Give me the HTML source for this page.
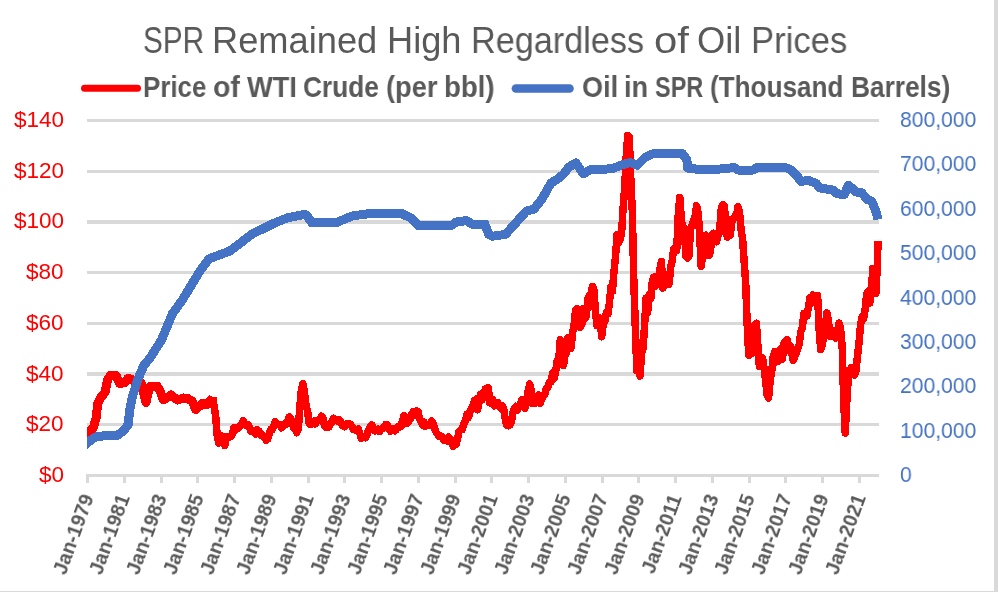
<!DOCTYPE html>
<html><head><meta charset="utf-8"><style>
html,body{margin:0;padding:0;background:#fff;}
body{width:999px;height:592px;position:relative;overflow:hidden;font-family:"Liberation Sans",sans-serif;}
.title{will-change:transform;position:absolute;top:20px;font-size:36px;color:#595959;white-space:nowrap;transform-origin:0 0;}
.leg{will-change:transform;position:absolute;top:70px;font-size:29.5px;font-weight:bold;color:#595959;white-space:nowrap;transform-origin:0 0;}
.ll{will-change:transform;position:absolute;right:935px;font-size:22.5px;color:#FF0000;white-space:nowrap;line-height:24px;}
.rl{will-change:transform;position:absolute;left:900px;font-size:22px;transform:scaleX(0.96);transform-origin:0 0;color:#4472C4;white-space:nowrap;line-height:24px;}
.xl{position:absolute;top:495px;width:0;height:0;}
.xl span{will-change:transform;position:absolute;right:0;top:-10px;line-height:20px;font-size:19.5px;font-weight:bold;color:#595959;white-space:nowrap;transform-origin:100% 50%;transform:rotate(-70deg);}
.bR{position:absolute;left:994px;top:0;width:4px;height:591px;background:#d9d9d9;}
.bB{position:absolute;left:0;top:591px;width:998px;height:1px;background:#d9d9d9;}
svg{position:absolute;left:0;top:0;}
</style></head><body>
<svg width="999" height="592" viewBox="0 0 999 592">
<g fill="#d9d9d9" shape-rendering="crispEdges"><rect x="87" y="119" width="792" height="3"/><rect x="87" y="170" width="792" height="3"/><rect x="87" y="220" width="792" height="4"/><rect x="87" y="271" width="792" height="3"/><rect x="87" y="322" width="792" height="3"/><rect x="87" y="372" width="792" height="4"/><rect x="87" y="423" width="792" height="3"/><rect x="87" y="474" width="792" height="3"/></g>
<g stroke="#d9d9d9" stroke-width="3" shape-rendering="crispEdges"><line x1="87.5" y1="474" x2="87.5" y2="483"/><line x1="124.5" y1="474" x2="124.5" y2="483"/><line x1="161.5" y1="474" x2="161.5" y2="483"/><line x1="197.5" y1="474" x2="197.5" y2="483"/><line x1="234.5" y1="474" x2="234.5" y2="483"/><line x1="271.5" y1="474" x2="271.5" y2="483"/><line x1="308.5" y1="474" x2="308.5" y2="483"/><line x1="344.5" y1="474" x2="344.5" y2="483"/><line x1="381.5" y1="474" x2="381.5" y2="483"/><line x1="418.5" y1="474" x2="418.5" y2="483"/><line x1="455.5" y1="474" x2="455.5" y2="483"/><line x1="491.5" y1="474" x2="491.5" y2="483"/><line x1="528.5" y1="474" x2="528.5" y2="483"/><line x1="565.5" y1="474" x2="565.5" y2="483"/><line x1="602.5" y1="474" x2="602.5" y2="483"/><line x1="638.5" y1="474" x2="638.5" y2="483"/><line x1="675.5" y1="474" x2="675.5" y2="483"/><line x1="712.5" y1="474" x2="712.5" y2="483"/><line x1="749.5" y1="474" x2="749.5" y2="483"/><line x1="785.5" y1="474" x2="785.5" y2="483"/><line x1="822.5" y1="474" x2="822.5" y2="483"/><line x1="859.5" y1="474" x2="859.5" y2="483"/></g>
<line x1="84.5" y1="88.3" x2="137.5" y2="88.3" stroke="#FF0000" stroke-width="7" stroke-linecap="round"/>
<line x1="515.9" y1="88.5" x2="569.5" y2="88.5" stroke="#4472C4" stroke-width="8.6" stroke-linecap="round"/>
<defs><clipPath id="pc"><rect x="87" y="100" width="797" height="400"/></clipPath></defs>
<polyline clip-path="url(#pc)" shape-rendering="crispEdges" fill="none" stroke="#FF0000" stroke-width="9" stroke-linejoin="round" points="82.0,437.5 87.0,433.5 93.1,428.4 96.2,417.7 97.7,404.0 101.5,396.5 105.3,391.9 107.5,379.7 110.6,375.2 115.9,375.2 119.7,383.5 124.3,382.8 128.1,378.2 131.9,379.7 136.4,382.8 141.0,383.0 146.0,402.5 149.5,387.0 151.5,386.0 157.0,386.0 160.0,391.0 163.5,400.0 171.0,395.0 177.5,400.0 183.5,398.0 187.5,398.5 192.0,401.0 195.8,409.5 202.5,403.5 207.0,404.5 212.8,397.5"/>
<polyline clip-path="url(#pc)" shape-rendering="crispEdges" fill="none" stroke="#FF0000" stroke-width="7.5" stroke-linejoin="round" points="212.8,397.5 215.7,416.9 217.2,435.8 218.7,443.0 220.3,442.4 221.8,436.0 223.3,440.9 224.9,445.6 226.4,436.7 227.9,437.3 229.5,437.2 231.0,436.4 232.5,434.1 234.0,427.7 235.6,430.0 237.1,428.6 238.6,427.6 240.2,425.7 241.7,424.1 243.2,420.9 244.8,423.5 246.3,425.5 247.8,424.6 249.4,427.2 250.9,431.2 252.4,431.6 254.0,432.4 255.5,433.9 257.0,429.7 258.6,430.8 260.1,433.1 261.6,435.7 263.2,435.6 264.7,438.1 266.2,440.1 267.7,439.1 269.3,433.5 270.8,429.3 272.3,429.5 273.9,425.6 275.4,421.6 276.9,424.0 278.5,424.2 280.0,424.8 281.5,427.9 283.1,425.3 284.6,424.0 286.1,424.6 287.7,421.5 289.2,417.0 290.7,418.9 292.3,423.3 293.8,428.3 295.3,428.9 296.8,432.7 298.4,428.2 299.9,405.7 301.4,390.0 303.0,383.6 304.5,393.0 306.0,405.8 307.6,411.0 309.1,423.1 310.6,424.5 312.2,422.2 313.7,421.2 315.2,423.8 316.8,420.7 318.3,420.0 319.8,419.5 321.4,416.1 322.9,418.0 324.4,425.6 326.0,427.4 327.5,426.8 329.0,427.0 330.5,423.7 332.1,421.8 333.6,418.2 335.1,419.8 336.7,420.9 338.2,419.5 339.7,420.0 341.3,423.4 342.8,425.8 344.3,426.7 345.9,424.1 347.4,423.5 348.9,423.7 350.5,424.4 352.0,426.6 353.5,429.6 355.1,429.3 356.6,430.6 358.1,429.0 359.7,432.9 361.2,438.2 362.7,436.9 364.2,437.5 365.8,437.8 367.3,433.5 368.8,429.6 370.4,426.7 371.9,425.1 373.4,428.4 375.0,430.8 376.5,430.1 378.0,429.2 379.6,431.5 381.1,429.3 382.6,427.9 384.2,428.0 385.7,424.5 387.2,424.9 388.8,428.2 390.3,431.1 391.8,429.3 393.3,428.8 394.9,430.8 396.4,429.4 397.9,426.7 399.5,427.2 401.0,426.6 402.5,420.9 404.1,415.4 405.6,421.3 407.1,423.2 408.7,421.0 410.2,419.5 411.7,414.2 413.3,411.9 414.8,414.9 416.3,411.0 417.9,411.3 419.4,418.8 420.9,421.8 422.5,425.0 424.0,422.2 425.5,426.2 427.0,425.1 428.6,424.4 430.1,424.8 431.6,420.9 433.2,423.8 434.7,428.5 436.2,432.6 437.8,434.3 439.3,436.7 440.8,436.1 442.4,437.2 443.9,440.2 445.4,439.1 447.0,440.8 448.5,436.9 450.0,438.3 451.6,442.0 453.1,446.2 454.6,443.3 456.2,444.5 457.7,437.8 459.2,431.1 460.7,430.1 462.3,429.6 463.8,424.0 465.3,421.0 466.9,414.6 468.4,417.5 469.9,411.6 471.5,408.8 473.0,405.9 474.5,400.5 476.1,399.3 477.6,409.8 479.1,402.0 480.7,394.3 482.2,399.7 483.7,395.7 485.3,389.1 486.8,391.0 488.3,387.7 489.8,402.9 491.4,400.0 492.9,399.9 494.4,405.9 496.0,405.3 497.5,402.4 499.0,405.0 500.6,408.0 502.1,405.6 503.6,408.6 505.2,418.8 506.7,425.2 508.2,425.8 509.8,425.0 511.3,422.5 512.8,412.8 514.4,408.6 515.9,406.4 517.4,410.3 519.0,406.6 520.5,403.0 522.0,399.8 523.5,401.9 525.1,408.2 526.6,400.3 528.1,391.4 529.7,384.1 531.2,390.0 532.7,403.6 534.3,403.7 535.8,397.3 537.3,397.0 538.9,394.9 540.4,403.2 541.9,398.1 543.5,396.1 545.0,393.5 546.5,388.0 548.1,387.0 549.6,381.8 551.1,381.8 552.7,372.9 554.2,378.6 555.7,371.6 557.2,361.1 558.8,358.5 560.3,339.9 561.8,352.1 563.4,365.6 564.9,356.2 566.4,352.9 568.0,337.6 569.5,340.7 571.0,348.6 572.6,332.1 574.1,325.4 575.6,310.2 577.2,308.7 578.7,317.1 580.2,327.1 581.8,324.4 583.3,308.9 584.8,318.7 586.3,316.0 587.9,298.9 589.4,295.4 590.9,295.1 592.5,286.3 594.0,289.8 595.5,313.2 597.1,325.7 598.6,325.2 600.1,317.9 601.7,336.8 603.2,324.7 604.7,321.7 606.3,312.8 607.8,314.1 609.3,303.9 610.9,287.1 612.4,291.5 613.9,272.3 615.5,257.4 617.0,234.7 618.5,242.5 620.0,239.3 621.6,233.1 623.1,207.6 624.6,189.5 626.2,157.0 627.7,135.5 629.2,136.8 630.8,179.2 632.3,211.0 633.8,280.7 635.4,329.7 636.9,370.7 638.4,369.2 640.0,375.9 641.5,353.4 643.0,349.1 644.6,325.3 646.1,298.4 647.6,312.3 649.2,294.8 650.7,299.0 652.2,283.0 653.7,277.2 655.3,286.2 656.8,276.4 658.3,281.3 659.9,269.1 661.4,261.3 662.9,288.0 664.5,284.0 666.0,281.5 667.5,280.8 669.1,284.2 670.6,267.4 672.1,261.4 673.7,248.9 675.2,248.9 676.7,250.4 678.3,214.2 679.8,197.3 681.3,219.1 682.8,230.9 684.4,228.3 685.9,256.1 687.4,258.1 689.0,256.1 690.5,228.6 692.0,225.1 693.6,220.7 695.1,215.9 696.6,205.8 698.2,213.0 699.7,235.0 701.2,266.3 702.8,252.1 704.3,236.3 705.8,235.3 707.4,248.1 708.9,255.6 710.4,252.2 712.0,234.7 713.5,233.3 715.0,239.3 716.5,241.7 718.1,235.3 719.6,232.2 721.1,209.6 722.7,204.8 724.2,205.5 725.7,220.1 727.3,237.0 728.8,227.4 730.3,235.1 731.9,219.3 733.4,219.4 734.9,216.2 736.5,215.9 738.0,206.7 739.5,212.3 741.1,230.2 742.6,238.6 744.1,261.0 745.7,282.8 747.2,324.7 748.7,355.3 750.2,346.7 751.8,353.7 753.3,336.9 754.8,324.7 756.4,323.3 757.9,345.9 759.4,366.3 761.0,359.7 762.5,357.8 764.0,367.4 765.6,380.7 767.1,394.7 768.6,398.1 770.2,379.8 771.7,371.7 773.2,356.6 774.8,351.4 776.3,361.8 777.8,361.6 779.3,360.4 780.9,348.8 782.4,359.2 783.9,343.2 785.5,341.9 787.0,339.4 788.5,349.9 790.1,345.5 791.6,352.1 793.1,360.4 794.7,356.8 796.2,353.2 797.7,348.7 799.3,344.2 800.8,331.4 802.3,328.2 803.9,313.5 805.4,317.2 806.9,315.9 808.5,307.0 810.0,297.6 811.5,302.9 813.0,295.0 814.6,302.4 816.1,296.9 817.6,295.6 819.2,330.6 820.7,349.4 822.2,344.7 823.8,335.7 825.3,327.5 826.8,313.1 828.4,320.8 829.9,336.4 831.4,329.6 833.0,336.0 834.5,330.6 836.0,338.2 837.6,330.4 839.1,323.2 840.6,329.1 842.2,346.8 843.7,400.9 845.2,433.0 846.7,402.6 848.3,377.9 849.8,371.8 851.3,367.6 852.9,374.5 854.4,375.1 855.9,371.2 857.5,355.8 859.0,343.1 860.5,325.3 862.1,316.9 863.6,318.5 865.1,309.7 866.7,294.0 868.2,291.2 869.7,303.3 871.3,293.6 872.8,268.4 874.3,274.3 875.8,293.2 877.4,264.0 878.0,241.0"/>
<polyline clip-path="url(#pc)" shape-rendering="crispEdges" fill="none" stroke="#4472C4" stroke-width="9" stroke-linejoin="round" points="82.0,447.5 87.0,443.0 93.1,438.5 97.7,436.2 117.4,435.4 123.5,430.9 128.1,424.8 129.6,411.1 132.6,395.9 138.0,379.2 143.7,365.6 150.0,358.0 161.5,340.0 172.5,313.5 181.7,301.0 190.8,286.0 200.0,271.0 209.0,258.8 230.0,251.0 251.6,234.4 276.0,222.3 288.0,217.7 303.0,214.7 306.5,215.0 311.7,222.6 336.4,222.6 352.0,216.0 370.0,213.5 401.5,213.5 412.0,218.7 418.4,225.8 451.0,225.8 456.0,222.0 466.6,220.6 473.0,224.7 484.8,224.0 488.7,234.4 492.6,236.2 505.6,234.4 526.4,211.0 534.0,209.0 542.0,199.0 550.8,183.3 558.0,178.7 563.4,174.2 568.8,167.0 576.0,163.0 583.2,173.9 590.5,169.7 612.0,168.8 621.0,165.2 630.0,162.5 637.3,165.2 644.5,158.0 651.7,154.0 682.3,153.5 686.8,159.8 687.7,168.0 702.0,169.8 720.0,169.0 734.2,167.6 738.0,170.0 753.3,170.0 757.0,167.6 785.6,167.6 791.3,170.0 797.0,175.7 800.8,181.4 808.4,180.5 816.0,183.3 819.8,188.0 833.0,190.0 837.0,193.8 844.5,194.4 848.3,185.2 852.0,188.0 856.0,191.9 861.7,192.8 867.4,199.5 872.0,201.4 876.0,211.9 878.0,219.5"/>
</svg>
<div class="title" style="left:143.05px;transform:scaleX(0.8257)">SPR</div><div class="title" style="left:212.48px;transform:scaleX(1.0069)">Remained</div><div class="title" style="left:386.88px;transform:scaleX(1.0058)">High</div><div class="title" style="left:470.90px;transform:scaleX(0.9508)">Regardless</div><div class="title" style="left:653.68px;transform:scaleX(1.1607)">of</div><div class="title" style="left:696.88px;transform:scaleX(1.0100)">Oil</div><div class="title" style="left:750.71px;transform:scaleX(0.9625)">Prices</div><div class="leg" style="left:142.64px;transform:scaleX(0.8783)">Price</div><div class="leg" style="left:213.03px;transform:scaleX(0.9667)">of</div><div class="leg" style="left:247.10px;transform:scaleX(0.9250)">WTI</div><div class="leg" style="left:303.31px;transform:scaleX(0.8904)">Crude</div><div class="leg" style="left:386.25px;transform:scaleX(0.9245)">(per</div><div class="leg" style="left:444.23px;transform:scaleX(0.9353)">bbl)</div><div class="leg" style="left:582.08px;transform:scaleX(0.9167)">Oil</div><div class="leg" style="left:624.17px;transform:scaleX(0.9174)">in</div><div class="leg" style="left:655.30px;transform:scaleX(0.7966)">SPR</div><div class="leg" style="left:710.33px;transform:scaleX(0.8844)">(Thousand</div><div class="leg" style="left:851.32px;transform:scaleX(0.8898)">Barrels)</div>
<div class="ll" style="top:463.0px">$0</div><div class="ll" style="top:412.3px">$20</div><div class="ll" style="top:361.6px">$40</div><div class="ll" style="top:310.9px">$60</div><div class="ll" style="top:260.1px">$80</div><div class="ll" style="top:209.4px">$100</div><div class="ll" style="top:158.7px">$120</div><div class="ll" style="top:108.0px">$140</div>
<div class="rl" style="top:463.0px">0</div><div class="rl" style="top:418.6px">100,000</div><div class="rl" style="top:374.2px">200,000</div><div class="rl" style="top:329.9px">300,000</div><div class="rl" style="top:285.5px">400,000</div><div class="rl" style="top:241.1px">500,000</div><div class="rl" style="top:196.8px">600,000</div><div class="rl" style="top:152.4px">700,000</div><div class="rl" style="top:108.0px">800,000</div>
<div class="xl" style="left:87.0px"><span>Jan-1979</span></div><div class="xl" style="left:123.8px"><span>Jan-1981</span></div><div class="xl" style="left:160.5px"><span>Jan-1983</span></div><div class="xl" style="left:197.3px"><span>Jan-1985</span></div><div class="xl" style="left:234.0px"><span>Jan-1987</span></div><div class="xl" style="left:270.8px"><span>Jan-1989</span></div><div class="xl" style="left:307.6px"><span>Jan-1991</span></div><div class="xl" style="left:344.3px"><span>Jan-1993</span></div><div class="xl" style="left:381.1px"><span>Jan-1995</span></div><div class="xl" style="left:417.9px"><span>Jan-1997</span></div><div class="xl" style="left:454.6px"><span>Jan-1999</span></div><div class="xl" style="left:491.4px"><span>Jan-2001</span></div><div class="xl" style="left:528.1px"><span>Jan-2003</span></div><div class="xl" style="left:564.9px"><span>Jan-2005</span></div><div class="xl" style="left:601.7px"><span>Jan-2007</span></div><div class="xl" style="left:638.4px"><span>Jan-2009</span></div><div class="xl" style="left:675.2px"><span>Jan-2011</span></div><div class="xl" style="left:712.0px"><span>Jan-2013</span></div><div class="xl" style="left:748.7px"><span>Jan-2015</span></div><div class="xl" style="left:785.5px"><span>Jan-2017</span></div><div class="xl" style="left:822.2px"><span>Jan-2019</span></div><div class="xl" style="left:859.0px"><span>Jan-2021</span></div>
<div class="bR"></div><div class="bB"></div>
</body></html>
